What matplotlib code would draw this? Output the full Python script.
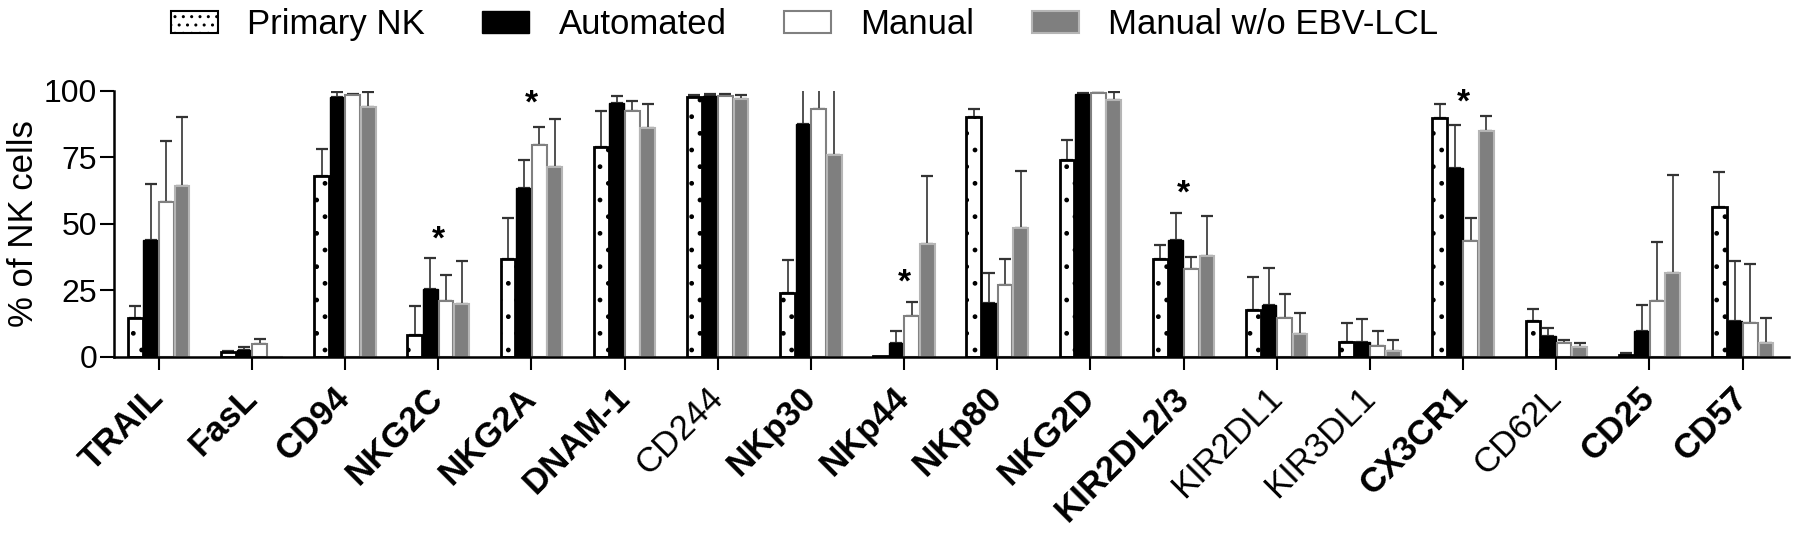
import matplotlib
matplotlib.use('Agg')
import matplotlib.pyplot as plt
import numpy as np
from matplotlib.patches import Patch

plt.rcParams['font.family'] = ['Liberation Sans', 'DejaVu Sans']

categories = ['TRAIL', 'FasL', 'CD94', 'NKG2C', 'NKG2A', 'DNAM-1', 'CD244', 'NKp30', 'NKp44',
              'NKp80', 'NKG2D', 'KIR2DL2/3', 'KIR2DL1', 'KIR3DL1', 'CX3CR1', 'CD62L', 'CD25', 'CD57']
bold_labels = ['TRAIL', 'FasL', 'CD94', 'NKG2C', 'NKG2A', 'DNAM-1', 'NKp30', 'NKp44', 'NKp80',
               'NKG2D', 'KIR2DL2/3', 'CX3CR1', 'CD25', 'CD57']

primary_nk = [14.4, 1.6, 68, 8.3, 36.6, 79, 97.8, 23.9, 0.3, 90.2, 73.9, 36.6, 17.5, 5.4, 89.8, 13.5, 0.5, 56.4]
primary_err = [4.6, 0.6, 10, 10.7, 15.4, 13.2, 0.6, 12.6, 0, 3, 7.5, 5.4, 12.5, 7.4, 5.2, 4.3, 1.0, 12.9]

automated = [44, 2.4, 97.5, 25.6, 63.4, 95.3, 97.9, 87.6, 5.3, 20.3, 98.7, 43.9, 19.4, 5.4, 71, 7.9, 9.5, 13.5]
automated_err = [21, 1.4, 2, 11.4, 10.6, 2.7, 0.9, 20, 4.5, 11.1, 0.5, 10, 14.1, 8.9, 16, 2.9, 9.8, 22.3]

manual = [58, 4.8, 98.5, 21, 79.6, 92.2, 98, 93, 15.3, 27, 99, 33, 14.4, 4, 43.5, 5, 21, 12.8]
manual_err = [23, 2, 0.2, 9.7, 6.9, 4.1, 0.9, 15, 5.1, 9.6, 0.2, 4.3, 9.2, 5.6, 8.5, 1.3, 22.2, 22.2]

manual_wo = [64, 0, 94, 19.7, 71.4, 85.8, 96.9, 76, 42.4, 48.2, 96.5, 37.8, 8.6, 2, 84.8, 3.8, 31.3, 5]
manual_wo_err = [26, 0, 5.5, 16.1, 18.1, 9.2, 1.5, 30, 25.4, 21.7, 3, 15.2, 7.9, 4.1, 5.7, 1.2, 37.1, 9.4]

star_categories = ['NKG2C', 'NKG2A', 'NKp44', 'KIR2DL2/3', 'CX3CR1']
star_values = [44, 95, 27.5, 61, 95.5]

fig = plt.figure(figsize=(18, 5.38), dpi=100)
ax = fig.add_axes([0.0633, 0.337, 0.9307, 0.4944])

x = np.arange(len(categories))
w = 0.167
series = [
    (primary_nk, primary_err, dict(facecolor='white', edgecolor='black', linewidth=2.0, hatch='.')),
    (automated, automated_err, dict(facecolor='black', edgecolor='black', linewidth=1.0)),
    (manual, manual_err, dict(facecolor='white', edgecolor='#808080', linewidth=1.5)),
    (manual_wo, manual_wo_err, dict(facecolor='#7f7f7f', edgecolor='#b5b5b5', linewidth=1.5)),
]
for i, (vals, errs, style) in enumerate(series):
    pos = x + (i - 1.5) * w
    ax.bar(pos, vals, width=w * 0.95, zorder=2, **style)
    vals_a = np.array(vals)
    errs_a = np.array(errs)
    mask = errs_a > 0
    ax.errorbar(pos[mask], vals_a[mask], yerr=[np.zeros(mask.sum()), errs_a[mask]], fmt='none',
                ecolor='#333333', elinewidth=1.2, capsize=4, capthick=1.6, zorder=1)

for cat, v in zip(star_categories, star_values):
    ax.text(categories.index(cat), v, '*', ha='center', va='center', fontsize=24, fontweight='bold')

ax.set_xlim(-0.48, 17.5)
ax.set_ylim(0, 100)
ax.set_yticks([0, 25, 50, 75, 100])
ax.tick_params(axis='y', labelsize=23, length=10, width=1.5, direction='out', pad=2)
ax.tick_params(axis='x', length=9, width=1.5, direction='out', pad=17)
ax.set_xticks(x)
ax.set_xticklabels(categories, rotation=45, ha='right', va='center', rotation_mode='anchor', fontsize=25)
for lbl in ax.get_xticklabels():
    lbl.set_fontweight('bold' if lbl.get_text() in bold_labels else 'normal')
ax.set_ylabel('% of NK cells', fontsize=25, labelpad=3)
for s in ['top', 'right']:
    ax.spines[s].set_visible(False)
for s in ['left', 'bottom']:
    ax.spines[s].set_linewidth(1.8)
ax.spines['bottom'].set_zorder(3)

handles = [
    Patch(facecolor='white', edgecolor='black', linewidth=1.5, hatch='..', label='Primary NK'),
    Patch(facecolor='black', edgecolor='black', label='Automated'),
    Patch(facecolor='white', edgecolor='#808080', linewidth=1.5, label='Manual'),
    Patch(facecolor='#7f7f7f', edgecolor='#b5b5b5', linewidth=1.5, label='Manual w/o EBV-LCL'),
]
fig.legend(handles=handles, loc='center', bbox_to_anchor=(0.447, 0.954), ncol=4, frameon=False,
           fontsize=25, handlelength=1.35, handleheight=0.63, handletextpad=0.85, columnspacing=1.65,
           borderaxespad=0, borderpad=0)

fig.savefig('out.png', dpi=100)
